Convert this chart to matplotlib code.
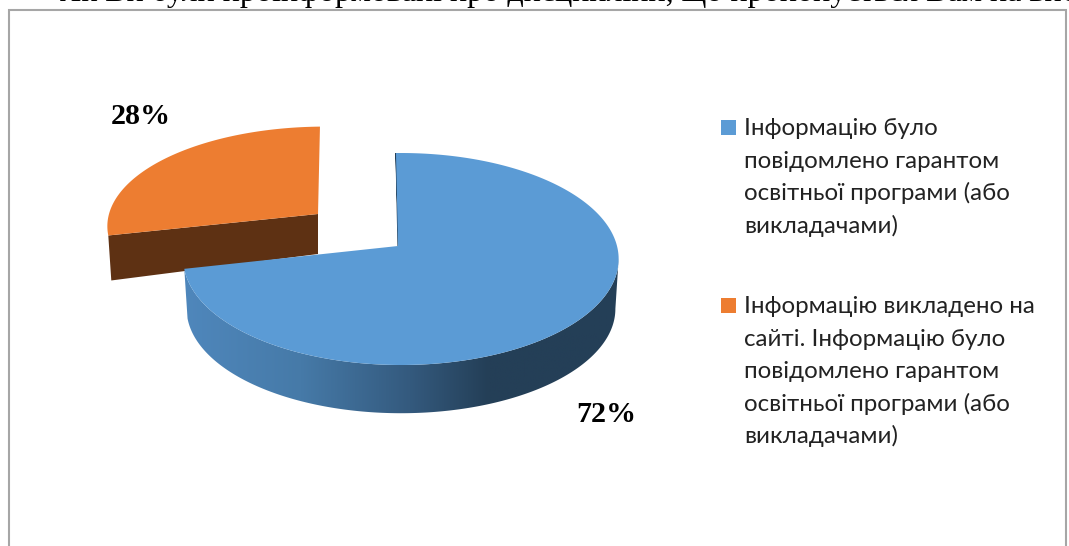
import numpy as np
import matplotlib
matplotlib.use("Agg")
import matplotlib.pyplot as plt
from matplotlib.patches import Polygon, Rectangle
from matplotlib.colors import LinearSegmentedColormap

# дані
categories = [
    ["Інформацію було", "повідомлено гарантом", "освітньої програми (або", "викладачами)"],
    ["Інформацію викладено на", "сайті. Інформацію було", "повідомлено гарантом",
     "освітньої програми (або", "викладачами)"],
]
values = [72, 28]
value_labels = ["72%", "28%"]
top_line = "Як Ви були проінформовані про дисципліни, що пропонується Вам на вибір"

W, H = 1069, 546
BLUE = "#5b9bd5"
ORANGE = "#ed7d31"
ORANGE_WALL = "#5e3113"
SANS = ["Lato", "Open Sans", "DejaVu Sans"]
SERIF = ["Liberation Serif", "DejaVu Serif"]

# параметри "3D" проекції
R_X, R_Y, PERSP = 216.0, 104.4, 0.1227
DEPTH = 50
START_DEG = -1.5


def project(deg, apex, dx=3.0, sy=1.0, sx=1.0):
    """кут за годинниковою від верху -> піксель на еліпсі"""
    a = np.radians(deg)
    u, v = np.sin(a), np.cos(a)
    w = 1 + PERSP * v
    return apex[0] + dx + sx * R_X * u / w, apex[1] - sy * R_Y * v / w


def sector(apex, d0, d1, **kw):
    degs = np.linspace(d0, d1, 300)
    x, y = project(degs, apex, **kw)
    return np.column_stack([np.r_[apex[0], x], np.r_[apex[1], y]])


fig = plt.figure(figsize=(W / 100, H / 100), dpi=100)
ax = fig.add_axes([0, 0, 1, 1])
ax.set_xlim(0, W)
ax.set_ylim(H, 0)
ax.axis("off")

# рамка і обрізаний рядок зверху
ax.add_patch(Rectangle((9, 9.5), 1057, 560, fc="white", ec="#a6a6a6", lw=1.5, zorder=0))
ax.text(60, 1.5, top_line, fontsize=23.1, family=SERIF, color="black", va="baseline", ha="left",
        zorder=1)

angles = np.cumsum([0] + [v * 3.6 for v in values]) + START_DEG

# помаранчевий сектор (винесений)
apex_o = (318, 214)
d0, d1 = angles[1], angles[2]
top_o = sector(apex_o, d0, d1, dx=7.0, sy=0.94)
wall = np.array([top_o[0], top_o[1], top_o[1] + [3, 45], top_o[0] + [0, 40]])
ax.add_patch(Polygon(wall, fc=ORANGE_WALL, ec="none", zorder=2))
ax.add_patch(Polygon(top_o, fc=ORANGE, ec="none", zorder=3))

# блакитний сектор
apex_b = (398, 246)
d0, d1 = angles[0], angles[1]
degs = np.linspace(max(d0, 97), d1, 400)
x_top, y_top = project(degs, apex_b)
x_low, y_low = project(degs, apex_b, sx=0.985, sy=0.985)
y_low = y_low + DEPTH

# бокова стінка з градієнтом
side = np.column_stack([np.r_[x_top, x_low[::-1]], np.r_[y_top, y_low[::-1]]])
side_patch = Polygon(side, fc="none", ec="none", zorder=4)
ax.add_patch(side_patch)
grad = LinearSegmentedColormap.from_list(
    "side", [(0, "#4f87bc"), (0.27, "#467aa8"), (0.52, "#345a7e"), (0.70, "#243f57"), (1, "#243f57")])
im = ax.imshow(np.linspace(0, 1, 256).reshape(1, -1), cmap=grad, aspect="auto",
               extent=[183, 619, 420, 250], zorder=4)
im.set_clip_path(side_patch)
ax.set_xlim(0, W)
ax.set_ylim(H, 0)

# тонка темна грань біля вершини
sx, sy = project(d0, apex_b)
ax.add_patch(Polygon([(sx, sy), (apex_b[0], apex_b[1]), (apex_b[0] + 1, apex_b[1]), (sx, sy + 3)],
                     fc="#243f57", ec="#243f57", lw=0.8, zorder=4))
ax.add_patch(Polygon(sector(apex_b, d0, d1), fc=BLUE, ec="none", zorder=5))

# підписи значень
ax.text(606, 415, value_labels[0], fontsize=21.6, family=SERIF, fontweight="bold",
        ha="center", va="center", zorder=6)
ax.text(141, 116, value_labels[1], fontsize=21.6, family=SERIF, fontweight="bold",
        ha="center", va="center", zorder=6)

# легенда
legend_base = [135, 313]
for lines, color, base in zip(categories, [BLUE, ORANGE], legend_base):
    ax.add_patch(Rectangle((721, base - 15), 15, 15, fc=color, ec="none", zorder=6))
    for i, line in enumerate(lines):
        ax.text(744, base + i * 32.6, line, fontsize=17.4, family=SANS, color="#222222",
                ha="left", va="baseline", zorder=6)

fig.savefig("out.png", dpi=100)
